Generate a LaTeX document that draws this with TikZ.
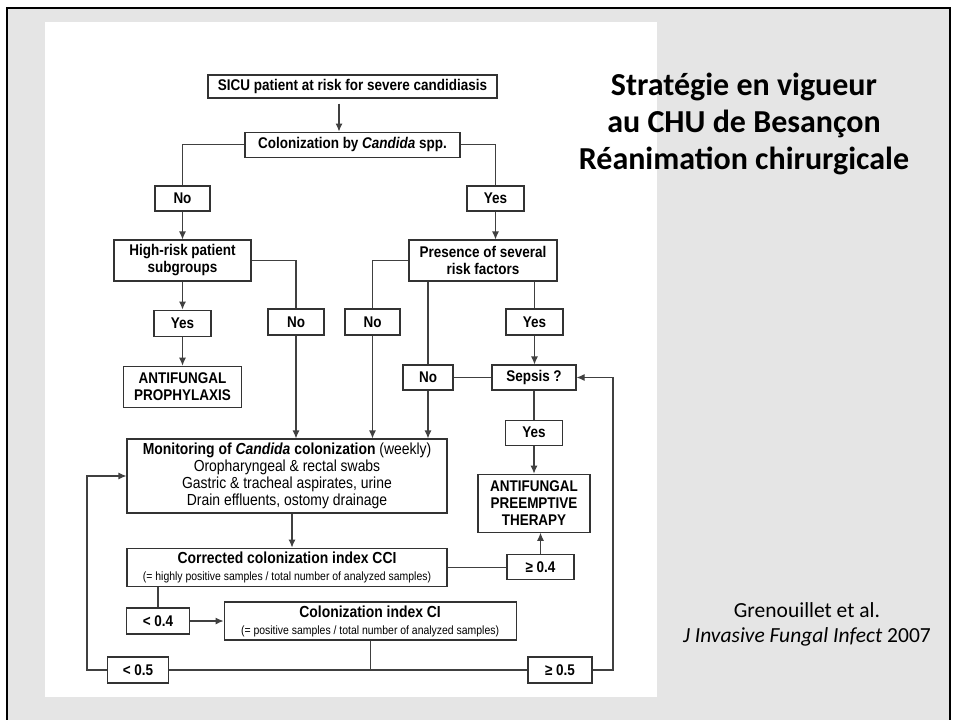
\documentclass[tikz,border=0pt]{standalone}
\usepackage{fontspec}
\setmainfont{Carlito}
\newfontfamily\chartfont[FakeStretch=0.87]{Liberation Sans}
\usetikzlibrary{arrows.meta,positioning}

\begin{document}
\begin{tikzpicture}[x=1pt, y=-1pt, >={Latex[length=8pt,width=7pt]},
  box/.style={draw=black!80, line width=1.1pt, fill=white, inner sep=1pt, align=center,
    font=\chartfont\bfseries\fontsize{15.5}{17}\selectfont},
  textbox/.style={box, font=\chartfont\fontsize{16}{17}\selectfont},
  link/.style={black!75, line width=1.1pt},
  title/.style={font=\bfseries\fontsize{32}{37}\selectfont, align=center},
  cite/.style={font=\fontsize{21.5}{25}\selectfont, align=center}]

  \useasboundingbox (0,0) rectangle (954,720);
  % slide background and frame
  \fill[black!10] (7,8) rectangle (950,720);
  \draw[line width=2.5pt] (7,720) -- (7,8) -- (950,8) -- (950,720);
  \fill[white] (45,22) rectangle (657,697);

  % title and reference
  \node[title] (title) at (744,124) {Stratégie en vigueur\\au CHU de Besançon\\Réanimation chirurgicale};
  \node[cite] (ref) at (807,624) {Grenouillet et al.\\\textit{J Invasive Fungal Infect} 2007};

  % decision tree
  \node[box, minimum width=289pt, minimum height=23pt] (sicu) at (352.5,86.5) {SICU patient at risk for severe candidiasis};
  \node[box, minimum width=215pt, minimum height=25pt, below=33pt of sicu] (colon) {Colonization by \textit{Candida} spp.};
  \node[box, minimum width=55pt, minimum height=25pt] (no1) at (182.5,198.5) {No};
  \node[box, minimum width=57pt, minimum height=25pt] (yes1) at (495.5,198.5) {Yes};
  \node[box, minimum width=137pt, minimum height=41pt] (hirisk) at (182.5,260.5) {High-risk patient\\subgroups};
  \node[box, minimum width=148pt, minimum height=41pt] (several) at (483,260.5) {Presence of several\\risk factors};
  \node[box, minimum width=57pt, minimum height=26pt, below=28pt of hirisk] (yes2) {Yes};
  \node[box, minimum width=56pt, minimum height=26pt] (no2) at (296,322) {No};
  \node[box, minimum width=55pt, minimum height=26pt] (no3) at (372.5,322) {No};
  \node[box, minimum width=57pt, minimum height=26pt] (yes3) at (534.5,322) {Yes};
  \node[box, minimum width=118pt, minimum height=41pt, below=29pt of yes2] (prophy) {ANTIFUNGAL\\PROPHYLAXIS};
  \node[box, minimum width=50pt, minimum height=25pt] (no4) at (428,377.5) {No};
  \node[box, minimum width=84pt, minimum height=25pt] (sepsis) at (534,377.5) {Sepsis ?};
  \node[box, minimum width=57pt, minimum height=25pt, below=29pt of sepsis] (yes4) {Yes};
  \node[box, minimum width=112pt, minimum height=58pt, below=28pt of yes4] (preempt) {ANTIFUNGAL\\PREEMPTIVE\\THERAPY};

  % monitoring loop
  \node[textbox, minimum width=320pt, minimum height=74pt] (monit) at (287,476)
    {\textbf{Monitoring of \textit{Candida} colonization} (weekly)\\Oropharyngeal \& rectal swabs\\Gastric \& tracheal aspirates, urine\\Drain effluents, ostomy drainage};
  \node[textbox, minimum width=320pt, minimum height=38pt, below=34pt of monit] (cci)
    {\textbf{Corrected colonization index CCI}\\\fontsize{12}{14}\selectfont(= highly positive samples / total number of analyzed samples)};
  \node[box, minimum width=67pt, minimum height=25pt] (ge04) at (540.5,567) {≥ 0.4};
  \node[box, minimum width=63pt, minimum height=26pt] (lt04) at (158,621) {< 0.4};
  \node[textbox, minimum width=292pt, minimum height=38pt, right=33.5pt of lt04] (ci)
    {\textbf{Colonization index CI}\\\fontsize{12}{14}\selectfont(= positive samples / total number of analyzed samples)};
  \node[box, minimum width=61pt, minimum height=26pt] (lt05) at (138,670) {< 0.5};
  \node[box, minimum width=64pt, minimum height=26pt] (ge05) at (560,670) {≥ 0.5};
  \coordinate (backL) at (87,670);
  \coordinate (backR) at (613,670);

  \draw[link, ->, shorten <=5pt] ([xshift=-13.5pt]sicu.south) -- ([xshift=-13.5pt]sicu.south |- colon.north);
  \draw[link] (colon.west) -| (no1.north);
  \draw[link] (colon.east) -| (yes1.north);
  \draw[link, ->] (no1.south) -- (no1.south |- hirisk.north);
  \draw[link, ->] (yes1.south) -- (yes1.south |- several.north);
  \draw[link] (hirisk.east) -| (no2.north);
  \draw[link] (several.west) -| (no3.north);
  \draw[link, ->] (hirisk.south) -- (yes2.north);
  \draw[link, ->] (yes2.south) -- (prophy.north);
  \draw[link, ->] (no2.south) -- (no2.south |- monit.north);
  \draw[link, ->] (no3.south) -- (no3.south |- monit.north);
  \draw[link] (no4.north |- several.south) -- (no4.north);
  \draw[link, ->] (no4.south) -- (no4.south |- monit.north);
  \draw[link] (yes3.north |- several.south) -- (yes3.north);
  \draw[link, ->] (yes3.south) -- (yes3.south |- sepsis.north);
  \draw[link] (sepsis.west) -- (no4.east);
  \draw[link] (sepsis.south) -- (yes4.north);
  \draw[link, ->] (yes4.south) -- (preempt.north);
  \draw[link, ->] ([xshift=5pt]monit.south) -- ([xshift=5pt]cci.north);
  \draw[link] (cci.east) -- (cci.east -| ge04.west);
  \draw[link, ->] (ge04.north) -- (ge04.north |- preempt.south);
  \draw[link] (lt04.north |- cci.south) -- (lt04.north);
  \draw[link, ->] (lt04.east) -- (ci.west);
  \draw[link] (lt05.east) -- (ge05.west);
  \draw[link] (ci.south) -- (ci.south |- lt05.east);
  \draw[link, ->] (lt05.west) -- (backL) |- (monit.west);
  \draw[link, ->] (ge05.east) -- (backR) |- (sepsis.east);
\end{tikzpicture}
\end{document}
